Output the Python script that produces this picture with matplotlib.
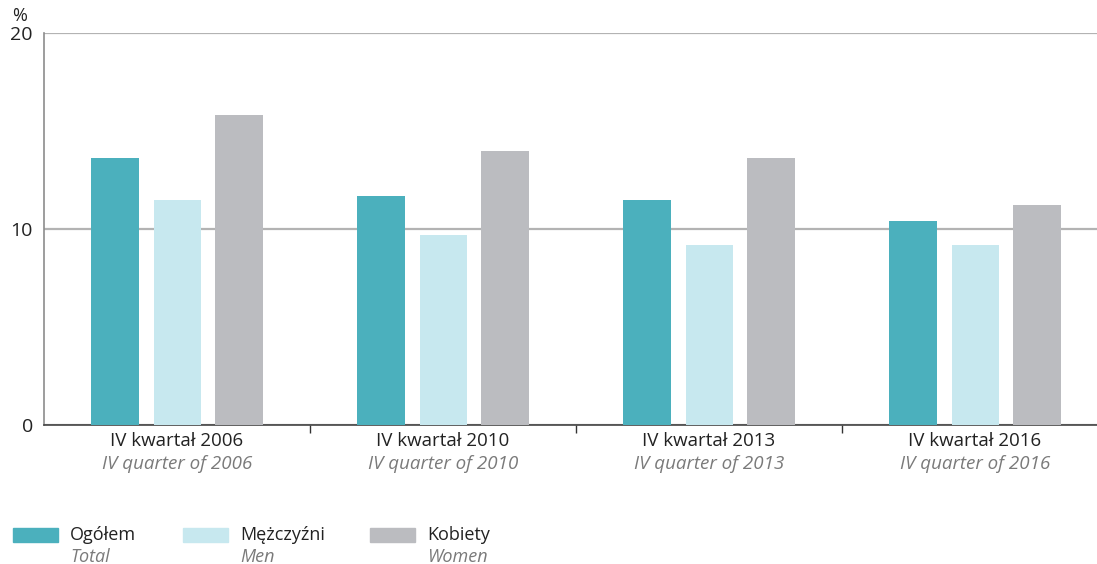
import matplotlib
matplotlib.use("Agg")
import matplotlib.pyplot as plt
from matplotlib.patches import Rectangle
import numpy as np

plt.rcParams['font.family'] = ['Open Sans', 'DejaVu Sans']

categories_pl = ["IV kwartał 2006", "IV kwartał 2010", "IV kwartał 2013", "IV kwartał 2016"]
categories_en = ["IV quarter of 2006", "IV quarter of 2010", "IV quarter of 2013", "IV quarter of 2016"]
series_pl = ["Ogółem", "Mężczyźni", "Kobiety"]
series_en = ["Total", "Men", "Women"]
total = [13.6, 11.7, 11.5, 10.4]
men = [11.5, 9.7, 9.2, 9.2]
women = [15.8, 14.0, 13.6, 11.2]
colors = ["#4BB0BD", "#C7E8EF", "#BBBCC0"]

W, H = 1097, 564
fig = plt.figure(figsize=(W / 100, H / 100), dpi=100)
ax = fig.add_axes([44 / W, 1 - 425 / H, 1 - 44 / W, (425 - 33) / H])

x = np.arange(len(categories_pl))
width = 0.18
offsets = [-0.232, 0.002, 0.233]
for vals, off, c in zip([total, men, women], offsets, colors):
    ax.bar(x + off, vals, width, color=c, zorder=3, linewidth=0)

ax.set_ylim(0, 20)
ax.set_xlim(-0.5, 3.459)
ax.set_yticks([0, 10, 20])
ax.set_yticklabels(["0", "10", "20"], fontsize=14, color="#222222")
ax.tick_params(axis='y', length=0, pad=8)
ax.grid(axis='y', color="#B3B3B3", linewidth=1.6, zorder=0)
ax.set_xticks([0.5, 1.5, 2.5])
ax.set_xticklabels([])
ax.tick_params(axis='x', length=6, width=1, color="#333333", direction='out')
for s in ["top", "right"]:
    ax.spines[s].set_visible(False)
ax.spines["left"].set_color("#8C8C8C")
ax.spines["left"].set_linewidth(1.2)
ax.spines["bottom"].set_color("#444444")
ax.spines["bottom"].set_linewidth(1.2)

for i in range(len(categories_pl)):
    ax.text(i, -0.8, categories_pl[i], ha='center', va='center', fontsize=13.5,
            color="#222222", transform=ax.transData)
    ax.text(i, -2.0, categories_en[i], ha='center', va='center', fontsize=13.5,
            color="#7A7A7A", style='italic', transform=ax.transData)

fig.text(12 / W, 1 - 16 / H, "%", fontsize=13, color="#222222", va='center', ha='left')

leg_x = [13, 183, 370]
for lx, c, spl, sen in zip(leg_x, colors, series_pl, series_en):
    fig.patches.append(Rectangle((lx / W, 1 - 542 / H), 45 / W, 14 / H,
                                 transform=fig.transFigure, color=c, figure=fig))
    fig.text((lx + 57) / W, 1 - 535 / H, spl, fontsize=13, color="#222222", va='center', ha='left')
    fig.text((lx + 57) / W, 1 - 557 / H, sen, fontsize=13, color="#7A7A7A", va='center',
             ha='left', style='italic')

fig.savefig("out.png", dpi=100)
